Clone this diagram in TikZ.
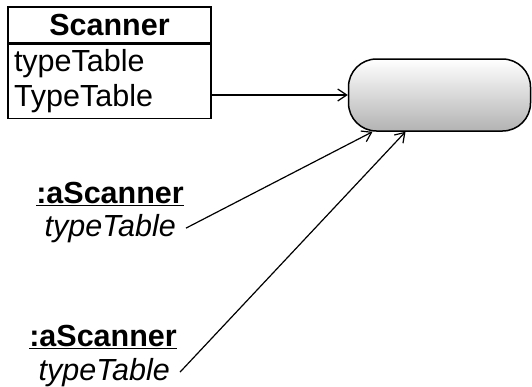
\documentclass[tikz,border=0pt]{standalone}
\usepackage{fontspec}
\setmainfont{Liberation Sans}
\usetikzlibrary{positioning,arrows.meta}

\begin{document}
\begin{tikzpicture}[x=1pt, y=-1pt, font=\fontsize{30.5}{35}\selectfont,
  classhead/.style = {draw, line width=1.5pt, minimum width=203pt, minimum height=36pt, inner sep=0pt, font=\fontsize{30.5}{35}\selectfont\bfseries},
  classbody/.style = {draw, line width=1.5pt, minimum height=74pt, text width=191pt, inner xsep=6pt, inner ysep=0pt, align=left},
  pill/.style = {draw, line width=1.5pt, rounded corners=28pt, minimum width=182pt, minimum height=72pt, top color=white, bottom color=black!30},
  objname/.style = {anchor=base east, inner sep=0pt, font=\fontsize{30.5}{35}\selectfont\bfseries},
  rolename/.style = {anchor=base east, inner xsep=10pt, inner ysep=0pt, font=\fontsize{30.5}{35}\selectfont\itshape},
  link/.style = {line width=1.2pt, -{Straight Barb[length=9pt, width=12pt]}}]
\useasboundingbox (0,0) rectangle (532,386);
\node[classhead] (scanner) at (109.5,25) {Scanner};
\node[classbody, below=0pt of scanner] (scannerattr) {typeTable\\TypeTable};
\node[pill] (pill) at (439.5,95) {};
\node[objname] (obj1) at (184,203) {\underline{:aScanner}};
\node[rolename] (role1) at (186,236) {typeTable};
\node[objname] (obj2) at (177,346) {\underline{:aScanner}};
\node[rolename] (role2) at (180,380) {typeTable};
\draw[link] (scannerattr.east |- pill.west) -- (pill.west);
\draw[link] (role1.east) -- ([xshift=-67pt]pill.south);
\draw[link] (role2.east) -- ([xshift=-34pt]pill.south);
\end{tikzpicture}
\end{document}
